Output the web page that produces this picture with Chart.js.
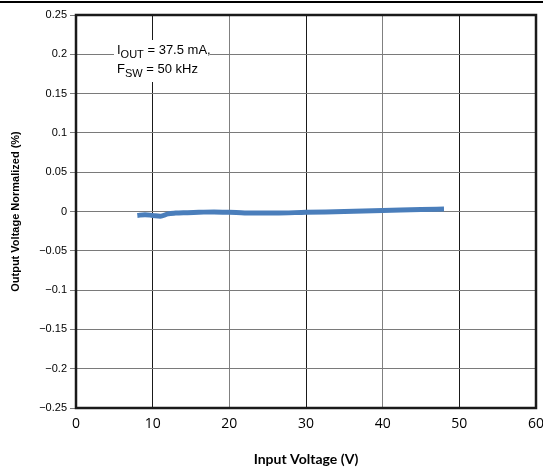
<!DOCTYPE html>
<html><head><meta charset="utf-8">
<script src="https://cdn.jsdelivr.net/npm/chart.js@4/dist/chart.umd.min.js"></script>
<style>html,body{margin:0;padding:0;background:#fff}#w{width:543px;height:472px}</style>
</head><body><div id="w"><canvas id="c" width="543" height="472"></canvas></div>
<script>
const inputVoltage = [8, 9, 10, 11, 12, 13, 14, 16, 18, 20, 22, 24, 26, 30, 35, 40, 45, 48];
const outputNorm = [-0.005, -0.004, -0.005, -0.006, -0.003, -0.002, -0.0015, -0.001, -0.0005, -0.001, -0.0018, -0.002, -0.002, -0.001, 0.0, 0.0012, 0.0025, 0.0032];
const xTicks = [0, 10, 20, 30, 40, 50, 60];
const yTicks = [0.25, 0.2, 0.15, 0.1, 0.05, 0, -0.05, -0.1, -0.15, -0.2, -0.25];
const noteLines = [["I", "OUT", " = 37.5 mA,"], ["F", "SW", " = 50 kHz"]];

const fmtY = v => { if (Math.abs(v) < 1e-9) return "0"; const s = String(Math.abs(+v.toFixed(2))); return (v < 0 ? "\u2212" : "") + s; };

const deco = {
  id: 'deco',
  afterDraw(chart) {
    const ctx = chart.ctx, a = chart.chartArea;
    ctx.save();
    ctx.strokeStyle = '#000'; ctx.lineWidth = 2;
    ctx.beginPath(); ctx.moveTo(0, 2); ctx.lineTo(543, 2); ctx.stroke();
    ctx.strokeStyle = '#1a1a1a'; ctx.lineWidth = 2.5;
    ctx.strokeRect(a.left, a.top, a.right - a.left, a.bottom - a.top);
    ctx.restore();
  },
  beforeDatasetsDraw(chart) {
    const ctx = chart.ctx;
    ctx.save();
    const x0 = 117;
    const ys = [54, 73];
    ctx.fillStyle = '#fff';
    ctx.fillRect(x0 - 3, 40, 96, 42);
    ctx.fillStyle = '#000';
    ctx.textBaseline = 'alphabetic';
    noteLines.forEach((ln, i) => {
      let x = x0;
      ctx.font = '13px "Liberation Sans", Arial, sans-serif';
      ctx.fillText(ln[0], x, ys[i]); x += ctx.measureText(ln[0]).width;
      ctx.font = '11px "Liberation Sans", Arial, sans-serif';
      ctx.fillText(ln[1], x, ys[i] + 4); x += ctx.measureText(ln[1]).width;
      ctx.font = '13px "Liberation Sans", Arial, sans-serif';
      ctx.fillText(ln[2], x, ys[i]);
    });
    ctx.restore();
  }
};

new Chart(document.getElementById('c'), {
  type: 'line',
  data: {
    datasets: [{
      data: inputVoltage.map((x, i) => ({ x, y: outputNorm[i] })),
      borderColor: '#4a7ebb',
      borderWidth: 5,
      pointRadius: 0,
      cubicInterpolationMode: 'monotone',
      fill: false
    }]
  },
  options: {
    responsive: false,
    animation: false,
    devicePixelRatio: 1,
    layout: { padding: { top: 15, right: 7, left: 0, bottom: 0 } },
    plugins: { legend: { display: false }, tooltip: { enabled: false } },
    scales: {
      x: {
        type: 'linear', min: 0, max: 60,
        afterBuildTicks: s => { s.ticks = xTicks.map(v => ({ value: v })); },
        afterFit: s => { s.height = 64; s.paddingRight = 0; s.paddingLeft = 0; },
        grid: {
          color: c => (c.tick && (c.tick.value === 20 || c.tick.value === 40)) ? '#808080' : '#1a1a1a',
          lineWidth: 1, drawTicks: false
        },
        border: { display: false },
        ticks: { color: '#000', padding: 8, font: { family: '"Open Sans", Lato, sans-serif', size: 14 } },
        title: { display: true, text: 'Input Voltage (V)', color: '#000', padding: { top: 10 }, font: { family: 'Lato, "Open Sans", sans-serif', size: 14, weight: 'bold' } }
      },
      y: {
        type: 'linear', min: -0.25, max: 0.25,
        afterBuildTicks: s => { s.ticks = yTicks.map(v => ({ value: v })); },
        afterFit: s => { s.width = 76; },
        grid: { color: '#7a7a7a', lineWidth: 1, drawTicks: true, tickLength: 6, tickColor: '#7a7a7a' },
        border: { display: false },
        ticks: { color: '#000', padding: 3, callback: v => fmtY(v), font: { family: '"Liberation Sans", Arial, sans-serif', size: 11 } },
        title: { display: true, text: 'Output Voltage Normalized (%)', color: '#000', padding: { top: 9, bottom: 4 }, font: { family: '"Liberation Sans", Arial, sans-serif', size: 11, weight: 'bold' } }
      }
    }
  },
  plugins: [deco]
});
</script></body></html>
